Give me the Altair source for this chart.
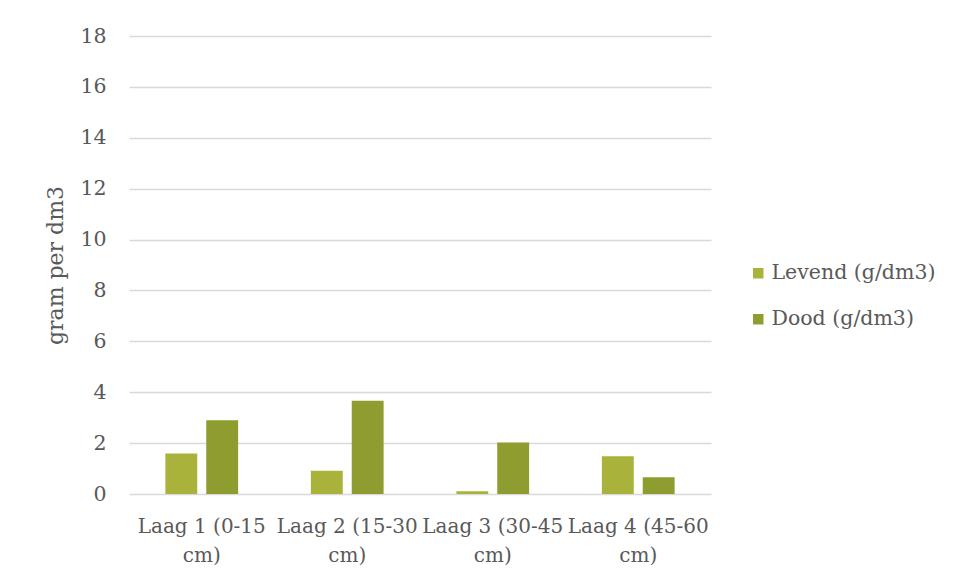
import altair as alt
import pandas as pd

categories = ["Laag 1 (0-15 cm)", "Laag 2 (15-30 cm)", "Laag 3 (30-45 cm)", "Laag 4 (45-60 cm)"]
series = ["Levend (g/dm3)", "Dood (g/dm3)"]
levend = [1.59, 0.91, 0.11, 1.48]
dood = [2.90, 3.66, 2.02, 0.66]
colors = ["#A9B23A", "#8F9D30"]

rows = []
for i, c in enumerate(categories):
    rows.append({"laag": c, "serie": series[0], "waarde": levend[i]})
    rows.append({"laag": c, "serie": series[1], "waarde": dood[i]})
df = pd.DataFrame(rows)

FONT = "DejaVu Serif"
TXT = "#595959"

chart = alt.Chart(df).mark_bar().encode(
    x=alt.X("laag:N", sort=categories, title=None,
            scale=alt.Scale(paddingInner=0.5, paddingOuter=0.25),
            axis=alt.Axis(labelAngle=0, ticks=False, domain=False,
                          labelFont=FONT, labelFontSize=20, labelColor=TXT,
                          labelPadding=22, labelLineHeight=29,
                          labelExpr="[replace(datum.label, ' cm)', ''), 'cm)']")),
    xOffset=alt.XOffset("serie:N", sort=series, scale=alt.Scale(paddingInner=0.22)),
    y=alt.Y("waarde:Q", title="gram per dm3",
            scale=alt.Scale(domain=[0, 18]),
            axis=alt.Axis(values=list(range(0, 19, 2)), ticks=False, domain=False,
                          grid=True, gridColor="#D9D9D9", gridWidth=1.4,
                          labelFont=FONT, labelFontSize=20.5, labelColor=TXT,
                          labelPadding=23,
                          titleFont=FONT, titleFontSize=22, titleColor=TXT,
                          titleFontWeight="normal", titlePadding=12)),
    color=alt.Color("serie:N", sort=series,
                    scale=alt.Scale(domain=series, range=colors),
                    legend=alt.Legend(title=None, orient="none", legendX=619, legendY=227,
                                      symbolType="square", symbolSize=110,
                                      symbolStrokeWidth=0, labelLimit=300,
                                      labelFont=FONT, labelFontSize=20.5, labelColor=TXT,
                                      rowPadding=25, labelOffset=3, padding=0)),
).properties(
    width=582, height=458,
    autosize=alt.AutoSizeParams(type="none"),
    padding={"left": 121, "top": 28, "right": 238, "bottom": 77},
    background="white",
).configure_view(stroke=None)

chart.save("out.html", embed_options={"renderer": "svg", "actions": False})
